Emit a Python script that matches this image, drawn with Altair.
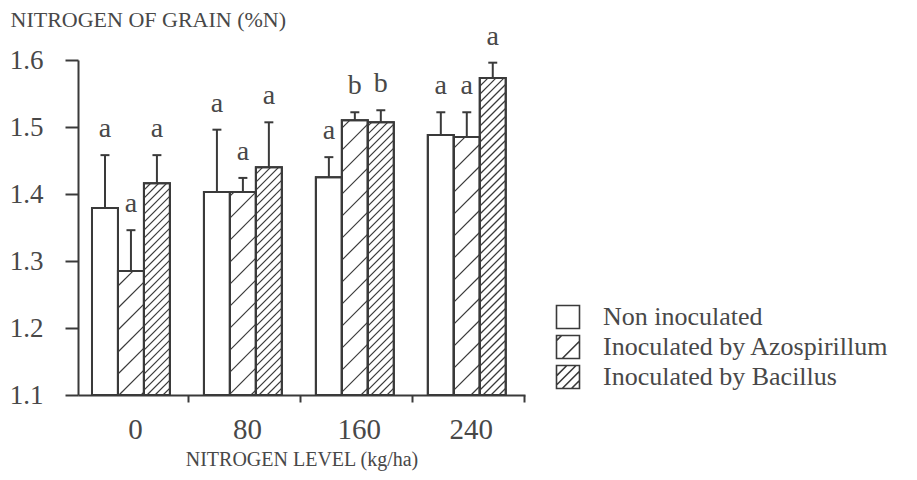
import altair as alt
import pandas as pd
import math

# ---------------- data ----------------
levels = ["0", "80", "160", "240"]
series = ["Non inoculated", "Inoculated by Azospirillum", "Inoculated by Bacillus"]

non_inoc = [1.379, 1.403, 1.425, 1.488]
non_inoc_err = [1.458, 1.496, 1.455, 1.522]
azo = [1.285, 1.403, 1.510, 1.485]
azo_err = [1.346, 1.424, 1.522, 1.522]
bac = [1.416, 1.440, 1.507, 1.573]
bac_err = [1.458, 1.507, 1.525, 1.596]

letters_non = ["a", "a", "a", "a"]
letters_azo = ["a", "a", "b", "a"]
letters_bac = ["a", "a", "b", "a"]

y_ticks = [1.1, 1.2, 1.3, 1.4, 1.5, 1.6]

# ---------------- layout / style ----------------
W, H = 447, 335
X_DOM = [-0.473, 3.52]
Y_DOM = [1.1, 1.6]
BAR_W = 0.232
OFFS = [-0.232, 0.0, 0.232]
CAP = 0.04
HATCH_SP = [None, 22, 8]     # vertical spacing of hatch lines (px)
C = "#3a3a3a"
T = "#484848"
SERIF = "Liberation Serif"

values = [non_inoc, azo, bac]
errs = [non_inoc_err, azo_err, bac_err]
letters = [letters_non, letters_azo, letters_bac]

rows = []
for s, name in enumerate(series):
    for g, lev in enumerate(levels):
        xc = g + OFFS[s]
        rows.append(dict(level=lev, series=name, s=s, value=values[s][g], err=errs[s][g],
                         letter=letters[s][g], xc=xc, xl=xc - BAR_W / 2, xr=xc + BAR_W / 2,
                         cl=xc - CAP, cr=xc + CAP, base=Y_DOM[0]))
bars = pd.DataFrame(rows)

# hatch segments (built from the bars, drawn through the shared scales)
xs = W / (X_DOM[1] - X_DOM[0])
ys = H / (Y_DOM[1] - Y_DOM[0])
hrows = []
for r in rows:
    sp = HATCH_SP[r["s"]]
    if sp is None:
        continue
    PL = (r["xl"] - X_DOM[0]) * xs
    PR = (r["xr"] - X_DOM[0]) * xs
    PB = 0.0
    PT = (r["value"] - Y_DOM[0]) * ys
    n0 = math.floor((PB - PR) / sp)
    n1 = math.ceil((PT - PL) / sp)
    for n in range(n0, n1 + 1):
        k = n * sp + 3
        a = max(PL, PB - k)
        b = min(PR, PT - k)
        if b - a > 0.6:
            hrows.append(dict(x1=X_DOM[0] + a / xs, x2=X_DOM[0] + b / xs,
                              y1=Y_DOM[0] + (a + k) / ys, y2=Y_DOM[0] + (b + k) / ys))
hatch = pd.DataFrame(hrows)

xsc = alt.Scale(domain=X_DOM, nice=False, zero=False)
ysc = alt.Scale(domain=Y_DOM, nice=False, zero=False)
XT = "NITROGEN LEVEL (kg/ha)"
YT = "NITROGEN OF GRAIN (%N)"

label_expr = "[" + ",".join("'%s'" % l for l in levels) + "][datum.value]"

xaxis = alt.Axis(values=[0, 1, 2, 3], labelExpr=label_expr, grid=False,
                 tickSize=7, tickOffset=57, tickWidth=2, tickColor=C,
                 domainColor=C, domainWidth=2, labelOffset=-53,
                 labelFont=SERIF, labelFontSize=29, labelColor=T, labelPadding=13,
                 titleFont=SERIF, titleFontSize=20, titleFontWeight="normal",
                 titleColor=T, titlePadding=5)
yaxis = alt.Axis(values=y_ticks, format=".1f", grid=False, tickSize=13, tickWidth=2,
                 tickColor=C, domainColor=C, domainWidth=2,
                 labelFont=SERIF, labelFontSize=27, labelColor=T, labelPadding=22,
                 titleAngle=0, titleX=-68, titleY=-34, titleAlign="left",
                 titleBaseline="alphabetic", titleFont=SERIF, titleFontSize=22,
                 titleFontWeight="normal", titleColor=T)

rect = alt.Chart(bars).mark_rect(fill="white", stroke=C, strokeWidth=2).encode(
    x=alt.X("xl:Q", scale=xsc, axis=xaxis, title=XT),
    x2="xr",
    y=alt.Y("base:Q", scale=ysc, axis=yaxis, title=YT),
    y2="value",
)

hatch_l = alt.Chart(hatch).mark_rule(color=C, strokeWidth=1.2).encode(
    x=alt.X("x1:Q", scale=xsc, title=XT), x2="x2",
    y=alt.Y("y1:Q", scale=ysc, title=YT), y2="y2",
)

outline = alt.Chart(bars).mark_rect(fill=None, stroke=C, strokeWidth=2).encode(
    x=alt.X("xl:Q", scale=xsc, title=XT), x2="xr",
    y=alt.Y("base:Q", scale=ysc, title=YT), y2="value",
)

err_v = alt.Chart(bars).mark_rule(color=C, strokeWidth=2).encode(
    x=alt.X("xc:Q", scale=xsc, title=XT),
    y=alt.Y("value:Q", scale=ysc, title=YT), y2="err",
)

err_cap = alt.Chart(bars).mark_rule(color=C, strokeWidth=2).encode(
    x=alt.X("cl:Q", scale=xsc, title=XT), x2="cr",
    y=alt.Y("err:Q", scale=ysc, title=YT),
)

text = alt.Chart(bars).mark_text(dy=-18, baseline="alphabetic", font=SERIF,
                                 fontSize=28, color=T).encode(
    x=alt.X("xc:Q", scale=xsc, title=XT),
    y=alt.Y("err:Q", scale=ysc, title=YT),
    text="letter:N",
)

paths = [
    "M-1,-1H1V1H-1Z",
    "M-1,-1H1V1H-1Z M-0.5,1L1,-0.5 M-1,-0.55L-0.55,-1",
    "M-1,-1H1V1H-1Z M-1,-0.1L-0.1,-1 M-1,0.7L0.7,-1 M-0.5,1L1,-0.5 M0.3,1L1,0.3",
]

legend_pts = alt.Chart(bars).mark_point(opacity=0, filled=False, color=C).encode(
    x=alt.X("xc:Q", scale=xsc, title=XT),
    y=alt.Y("value:Q", scale=ysc, title=YT),
    shape=alt.Shape("series:N", scale=alt.Scale(domain=series, range=paths),
                    legend=alt.Legend(orient="none", legendX=477, legendY=244, title=None,
                                      symbolSize=529, symbolStrokeColor=C,
                                      symbolStrokeWidth=1.6, symbolOpacity=1,
                                      labelFont=SERIF, labelFontSize=26, labelColor=T,
                                      labelOffset=22, rowPadding=0, padding=0,
                                      labelLimit=400)),
)

chart = alt.layer(rect, hatch_l, outline, err_v, err_cap, text, legend_pts).properties(
    width=W, height=H,
    autosize=alt.AutoSizeParams(type="none"),
    padding={"left": 70, "top": 52, "right": 384, "bottom": 77},
    background="white",
).configure_view(stroke=None)

chart.save("out.html", embed_options={"renderer": "svg", "actions": False})
